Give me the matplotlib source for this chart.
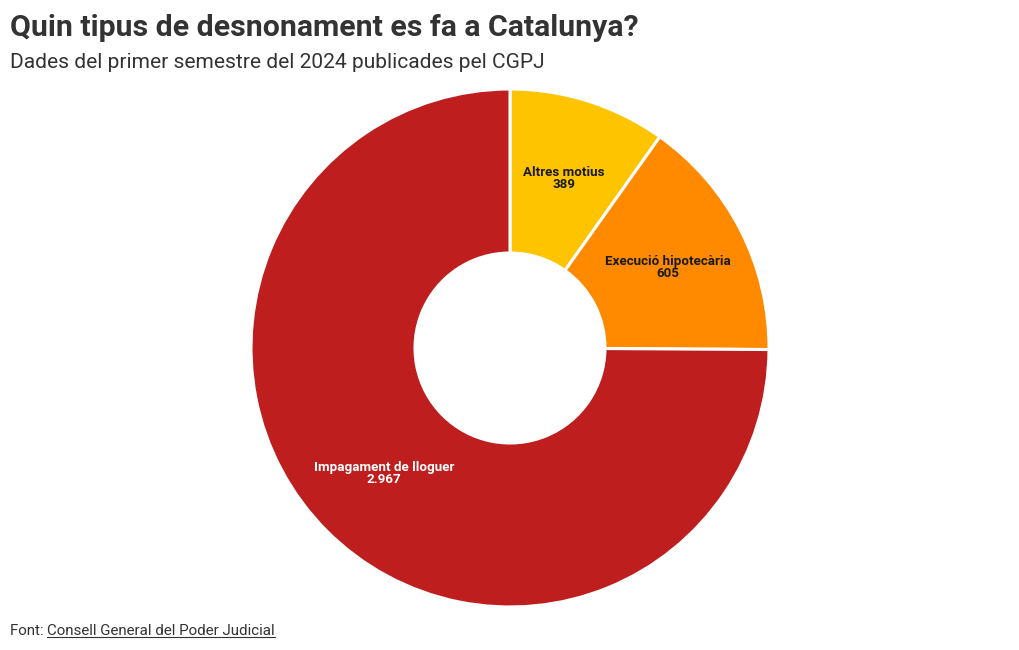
import matplotlib
matplotlib.use("Agg")
import matplotlib.pyplot as plt
import numpy as np

categories = ["Altres motius", "Execució hipotecària", "Impagament de lloguer"]
values = [389, 605, 2967]
colors = ["#FFC400", "#FF8A00", "#BE1E1E"]
label_colors = ["#1a1a1a", "#1a1a1a", "#ffffff"]

title = "Quin tipus de desnonament es fa a Catalunya?"
subtitle = "Dades del primer semestre del 2024 publicades pel CGPJ"
source_prefix = "Font: "
source_name = "Consell General del Poder Judicial"

plt.rcParams['font.family'] = ['Roboto', 'DejaVu Sans']

W, H = 1020, 650
fig = plt.figure(figsize=(W/100, H/100), dpi=100)
fig.patch.set_facecolor("white")

cx, cy, R = 510, 348, 259
ax = fig.add_axes([(cx-R)/W, (H-cy-R)/H, 2*R/W, 2*R/H])
ax.set_aspect("equal")
ax.axis("off")

wedges, _ = ax.pie(values, colors=colors, startangle=90, counterclock=False,
                   radius=1.0,
                   wedgeprops=dict(width=1-95/259, edgecolor="white", linewidth=2.2,
                                   joinstyle="round"))
ax.set_xlim(-1, 1)
ax.set_ylim(-1, 1)

def fmt(v):
    return f"{v:,}".replace(",", ".")

for w, cat, v, lc in zip(wedges, categories, values, label_colors):
    ang = np.deg2rad((w.theta1 + w.theta2) / 2)
    r = 0.685
    ax.text(r*np.cos(ang), r*np.sin(ang), f"{cat}\n{fmt(v)}", ha="center", va="center",
            fontsize=9.6, fontweight="bold", color=lc, linespacing=0.9)

fig.text(10/W, 1-28/H, title, fontsize=21.8, fontweight="bold", color="#333333",
         ha="left", va="center")
fig.text(10/W, 1-63/H, subtitle, fontsize=15.1, color="#333333", ha="left", va="center")

t1 = fig.text(10/W, 1-631/H, source_prefix, fontsize=10.9, color="#333333", ha="left", va="center")
fig.canvas.draw()
r = fig.canvas.get_renderer()
bb = t1.get_window_extent(r)
t2 = fig.text(bb.x1/W, 1-631/H, source_name, fontsize=10.9, color="#333333", ha="left", va="center")
fig.canvas.draw()
bb2 = t2.get_window_extent(r)
yline = (bb2.y0 + 1.5) / H
fig.add_artist(plt.Line2D([bb2.x0/W, bb2.x1/W], [yline, yline], color="#333333", linewidth=0.8,
                          transform=fig.transFigure))

fig.savefig("out.png", dpi=100, facecolor="white")
